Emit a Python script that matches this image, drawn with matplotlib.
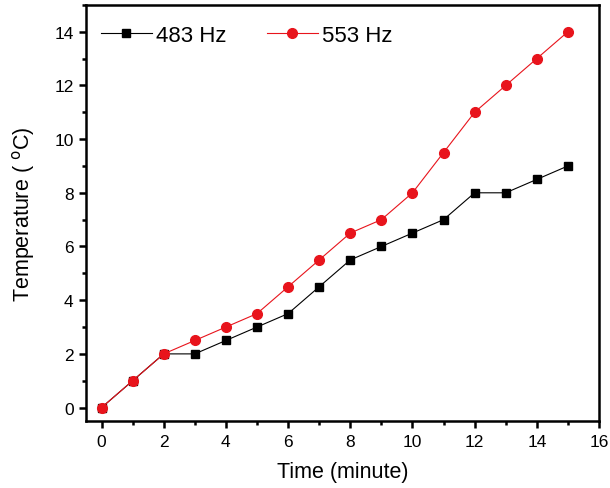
import matplotlib
matplotlib.use("Agg")
import matplotlib.pyplot as plt
from matplotlib.ticker import MultipleLocator

time_min = [0, 1, 2, 3, 4, 5, 6, 7, 8, 9, 10, 11, 12, 13, 14, 15]
temp_483 = [0, 1, 2, 2, 2.5, 3, 3.5, 4.5, 5.5, 6, 6.5, 7, 8, 8, 8.5, 9]
temp_553 = [0, 1, 2, 2.5, 3, 3.5, 4.5, 5.5, 6.5, 7, 8, 9.5, 11, 12, 13, 14]

plt.rcParams["font.family"] = ["Liberation Sans", "DejaVu Sans"]

fig = plt.figure(figsize=(6.1, 4.89), dpi=100)
ax = fig.add_axes([0.141, 0.137, 0.841, 0.851])

ax.plot(time_min, temp_483, color="black", lw=0.8, marker="s", ms=6,
        label="483 Hz")
ax.plot(time_min, temp_553, color="#e8141c", lw=0.8, marker="o", ms=7,
        label="553 Hz")

ax.set_xlim(-0.5, 16)
ax.set_ylim(-0.5, 15)
ax.xaxis.set_major_locator(MultipleLocator(2))
ax.xaxis.set_minor_locator(MultipleLocator(1))
ax.yaxis.set_major_locator(MultipleLocator(2))
ax.yaxis.set_minor_locator(MultipleLocator(1))
ax.tick_params(which="major", direction="out", length=5, width=1.8,
               labelsize=12.5, pad=4, top=False, right=False)
ax.tick_params(which="minor", direction="out", length=3, width=1.8,
               top=False, right=False)
for s in ax.spines.values():
    s.set_linewidth(1.8)

ax.set_xlabel("Time (minute)", fontsize=15.5, labelpad=9)
ax.set_ylabel("Temperature ( $^{\\rm o}$C)", fontsize=15.5, labelpad=12)

ax.legend(loc="upper left", ncol=2, frameon=False, fontsize=16,
          handlelength=2.3, handletextpad=0.2, columnspacing=1.8,
          bbox_to_anchor=(-0.01, 1.0))

fig.savefig("out.png", dpi=100)
